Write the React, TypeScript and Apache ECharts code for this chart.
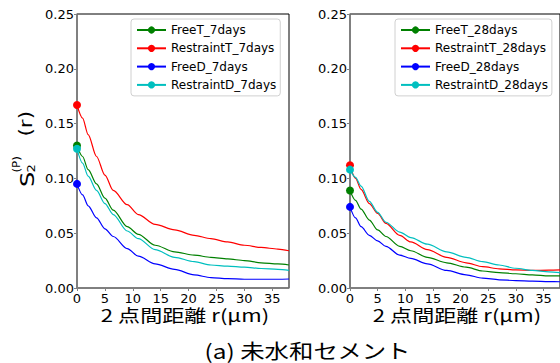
import React, { useEffect, useRef } from "react";
import * as echarts from "echarts";

// distance r (μm) at which the curves were read
const R = [0, 1, 2, 3.5, 5, 6.5, 9, 11, 14, 17.5, 21, 24, 27, 30, 33, 36, 38];

// (left) 7 days
const freeT7 = [0.130, 0.120, 0.108, 0.095, 0.082, 0.071, 0.056, 0.049, 0.039, 0.033, 0.030, 0.028, 0.0265, 0.025, 0.023, 0.022, 0.021];
const restraintT7 = [0.167, 0.155, 0.140, 0.120, 0.103, 0.089, 0.076, 0.067, 0.058, 0.053, 0.048, 0.045, 0.042, 0.039, 0.037, 0.0355, 0.034];
const freeD7 = [0.095, 0.085, 0.075, 0.064, 0.054, 0.047, 0.036, 0.029, 0.022, 0.017, 0.012, 0.0095, 0.0085, 0.008, 0.008, 0.008, 0.0082];
const restraintD7 = [0.127, 0.114, 0.102, 0.089, 0.077, 0.067, 0.052, 0.045, 0.035, 0.028, 0.024, 0.021, 0.020, 0.019, 0.0178, 0.017, 0.016];

// (right) 28 days
const freeT28 = [0.089, 0.080, 0.072, 0.062, 0.053, 0.047, 0.038, 0.034, 0.028, 0.023, 0.019, 0.0155, 0.014, 0.013, 0.012, 0.011, 0.011];
const restraintT28 = [0.112, 0.100, 0.090, 0.077, 0.068, 0.059, 0.048, 0.042, 0.035, 0.028, 0.023, 0.0195, 0.0175, 0.0165, 0.016, 0.0163, 0.0165];
const freeD28 = [0.074, 0.064, 0.056, 0.048, 0.043, 0.038, 0.030, 0.027, 0.022, 0.016, 0.012, 0.009, 0.0075, 0.0067, 0.0062, 0.0058, 0.0057];
const restraintD28 = [0.108, 0.101, 0.093, 0.079, 0.069, 0.060, 0.051, 0.046, 0.040, 0.033, 0.028, 0.024, 0.021, 0.018, 0.016, 0.0147, 0.014];

const xTicks = [0, 5, 10, 15, 20, 25, 30, 35];
const names7 = ["FreeT_7days", "RestraintT_7days", "FreeD_7days", "RestraintD_7days"];
const names28 = ["FreeT_28days", "RestraintT_28days", "FreeD_28days", "RestraintD_28days"];
const colors = ["#008000", "#ff0000", "#0000ff", "#00bfbf"];

const xTitle = "2 点間距離 r(μm)";
const caption = "(a) 未水和セメント";

const TICK_FONT = "DejaVu Sans";
const CJK_FONT = "Noto Sans CJK JP";

export default function App() {
  const ref = useRef<HTMLDivElement>(null);
  useEffect(() => {
    if (!ref.current) return;
    const chart = echarts.init(ref.current, null, { renderer: "svg" });

    const grids = [
      { left: 77, top: 14, width: 212, height: 274 },
      { left: 350, top: 14, width: 213, height: 274 },
    ];

    const xAxis = grids.map((_, i) => ({
      type: "value",
      gridIndex: i,
      min: 0,
      max: 38,
      interval: 5,
      axisLine: { show: true, lineStyle: { color: "#808080", width: 1.5 } },
      axisTick: { show: true, length: 3, customValues: xTicks, lineStyle: { color: "#808080" } },
      axisLabel: { customValues: xTicks, color: "#000", fontFamily: TICK_FONT, fontSize: 13, margin: 4 },
      splitLine: { show: false },
    }));
    const yAxis = grids.map((_, i) => ({
      type: "value",
      gridIndex: i,
      min: 0,
      max: 0.25,
      interval: 0.05,
      axisLine: { show: true, lineStyle: { color: "#808080", width: 1.5 } },
      axisTick: { show: true, length: 3, lineStyle: { color: "#808080" } },
      axisLabel: {
        color: "#000",
        fontFamily: TICK_FONT,
        fontSize: 13,
        margin: 3,
        formatter: (v: number) => v.toFixed(2),
      },
      splitLine: { show: false },
    }));

    const mk = (name: string, vals: number[], idx: number, gi: number) => ({
      type: "line",
      name,
      xAxisIndex: gi,
      yAxisIndex: gi,
      data: vals.map((v, k) => [R[k], v]),
      symbol: "circle",
      symbolSize: (_v: any, p: any) => (p.dataIndex === 0 ? 8 : 0),
      smooth: 0.3,
      smoothMonotone: "x",
      color: colors[idx],
      lineStyle: { width: 1.2, color: colors[idx] },
      itemStyle: { color: colors[idx] },
      emphasis: { disabled: true },
      clip: true,
    });

    const series = [
      mk(names7[0], freeT7, 0, 0),
      mk(names7[1], restraintT7, 1, 0),
      mk(names7[2], freeD7, 2, 0),
      mk(names7[3], restraintD7, 3, 0),
      mk(names28[0], freeT28, 0, 1),
      mk(names28[1], restraintT28, 1, 1),
      mk(names28[2], freeD28, 2, 1),
      mk(names28[3], restraintD28, 3, 1),
    ];

    const legendBase = {
      orient: "vertical",
      top: 19,
      itemWidth: 29,
      itemHeight: 9,
      itemGap: 6.3,
      padding: [5, 4, 5, 5],
      borderColor: "#d0d0d0",
      borderWidth: 1,
      borderRadius: 3,
      backgroundColor: "rgba(255,255,255,0.8)",
      selectedMode: false,
      textStyle: { fontFamily: TICK_FONT, fontSize: 12, color: "#000", lineHeight: 12 },
    };

    const yTitle = {
      type: "group",
      x: 33,
      y: 187,
      rotation: Math.PI / 2,
      scaleX: 1.2,
      children: [
        { type: "text", x: 0, y: -6.5, style: { text: "S", font: `20px "${TICK_FONT}"`, fill: "#000", align: "left", verticalAlign: "middle" } },
        { type: "text", x: 12, y: -1.5, style: { text: "2", font: `11px "${TICK_FONT}"`, fill: "#000", align: "left", verticalAlign: "middle" } },
        { type: "text", x: 12, y: -16.5, style: { text: "(P)", font: `10px "${TICK_FONT}"`, fill: "#000", align: "left", verticalAlign: "middle" } },
        { type: "text", x: 42, y: -6.5, style: { text: "(r)", font: `18px "${TICK_FONT}"`, fill: "#000", align: "left", verticalAlign: "middle" } },
      ],
    };

    const option = {
      animation: false,
      grid: grids.map((g) => ({ ...g, show: true, borderColor: "#000", borderWidth: 1, backgroundColor: "transparent" })),
      xAxis,
      yAxis,
      legend: [
        { ...legendBase, left: 131, data: names7 },
        { ...legendBase, left: 395, data: names28 },
      ],
      series,
      graphic: [
        yTitle,
        { type: "text", x: 185, y: 315, scaleX: 1.3, style: { text: xTitle, font: `17px "${CJK_FONT}"`, fill: "#000", align: "center", verticalAlign: "middle" } },
        { type: "text", x: 457, y: 315, scaleX: 1.3, style: { text: xTitle, font: `17px "${CJK_FONT}"`, fill: "#000", align: "center", verticalAlign: "middle" } },
        { type: "text", x: 307.5, y: 350, scaleX: 1.22, style: { text: caption, font: `20px "${CJK_FONT}"`, fill: "#000", align: "center", verticalAlign: "middle" } },
      ],
    };

    chart.setOption(option as any);
    return () => chart.dispose();
  }, []);

  return (
    <div
      ref={ref}
      style={{ position: "absolute", left: 0, top: 0, width: 560, height: 363, background: "#fff" }}
    />
  );
}
